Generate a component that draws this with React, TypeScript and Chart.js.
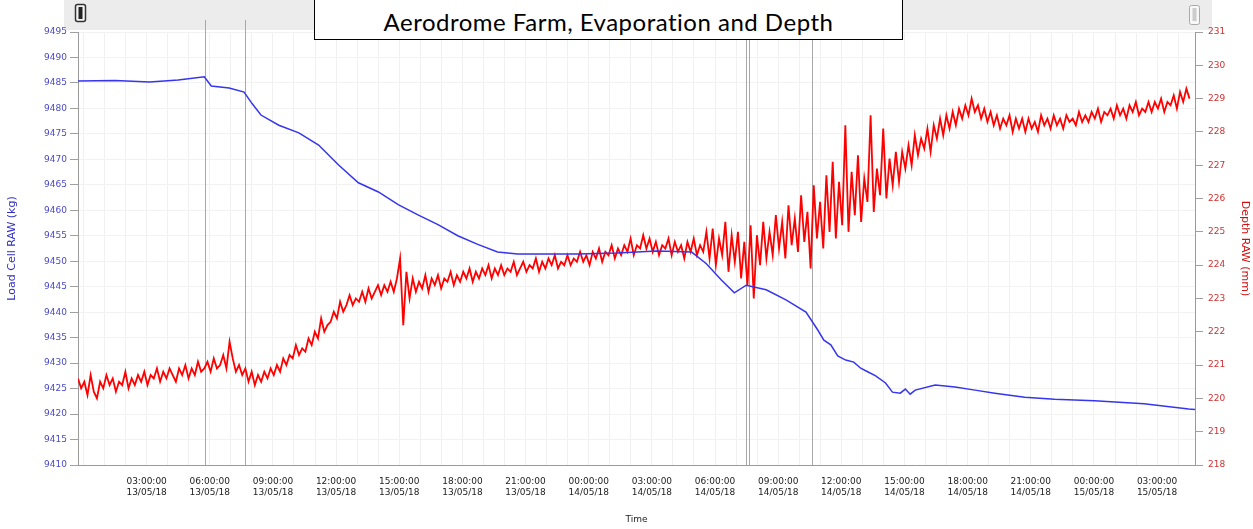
import React, { useEffect, useRef } from "react";
import { Chart, registerables } from "chart.js";

Chart.register(...registerables);

// ---- Data ----
// Time is expressed in hours since 00:00:00 on 13/05/18
const xMinHour = -0.26;
const xMaxHour = 52.8;

const xTickHours = [3, 6, 9, 12, 15, 18, 21, 24, 27, 30, 33, 36, 39, 42, 45, 48, 51];
const xTickTimes = [
  "03:00:00", "06:00:00", "09:00:00", "12:00:00", "15:00:00", "18:00:00", "21:00:00",
  "00:00:00", "03:00:00", "06:00:00", "09:00:00", "12:00:00", "15:00:00", "18:00:00", "21:00:00",
  "00:00:00", "03:00:00",
];
const xTickDates = [
  "13/05/18", "13/05/18", "13/05/18", "13/05/18", "13/05/18", "13/05/18", "13/05/18",
  "14/05/18", "14/05/18", "14/05/18", "14/05/18", "14/05/18", "14/05/18", "14/05/18", "14/05/18",
  "15/05/18", "15/05/18",
];

// Load cell (left axis)
const blueHours = [
  -0.26, 1.5, 3.14, 4.5, 5.74, 6.07, 6.92, 7.63, 8.0, 8.43, 9.28, 10.23, 11.17, 12.12, 13.06,
  14.01, 14.95, 15.89, 16.84, 17.78, 18.73, 19.67, 20.62, 23.45, 25.34, 27.23, 28.89, 29.59,
  30.3, 30.92, 31.48, 32.43, 33.37, 34.32, 34.88, 35.17, 35.5, 35.83, 36.21, 36.59, 36.92,
  37.25, 37.63, 38.1, 38.43, 38.8, 39.04, 39.27, 39.51, 40.46, 41.4, 42.35, 43.29, 44.71,
  46.13, 48.02, 50.38, 52.5, 52.8,
];
const blueLoad = [
  9485.4, 9485.5, 9485.2, 9485.6, 9486.2, 9484.4, 9484.0, 9483.2, 9481.0, 9478.7, 9476.7,
  9475.2, 9472.8, 9468.9, 9465.4, 9463.6, 9461.1, 9459.1, 9457.2, 9455.0, 9453.3, 9451.8,
  9451.4, 9451.4, 9451.6, 9452.0, 9451.8, 9449.5, 9446.3, 9443.8, 9445.3, 9444.4, 9442.4,
  9440.0, 9436.5, 9434.5, 9433.6, 9431.4, 9430.6, 9430.2, 9429.0, 9428.3, 9427.5, 9426.1,
  9424.3, 9424.1, 9424.9, 9423.9, 9424.7, 9425.7, 9425.3, 9424.7, 9424.1, 9423.3, 9422.9,
  9422.6, 9422.0, 9421.0, 9420.9,
];

// Depth (right axis), logged every 0.15 h starting at xMinHour
const redStartHour = -0.26;
const redStepHours = 0.15;
const redDepth = [
  220.6, 220.3, 220.5, 220.1, 220.7, 220.2, 220.0, 220.5, 220.3, 220.7, 220.4, 220.6, 220.2, 220.5, 220.4, 220.8, 220.3, 220.6, 220.4, 220.7,
  220.5, 220.8, 220.4, 220.7, 220.6, 220.9, 220.5, 220.8, 220.6, 220.9, 220.7, 220.5, 220.9, 220.7, 221.0, 220.6, 220.9, 220.7, 221.1, 220.8,
  220.9, 221.1, 220.8, 221.2, 220.9, 221.0, 221.3, 220.9, 221.7, 221.2, 220.8, 221.0, 220.7, 220.9, 220.5, 220.8, 220.4, 220.7, 220.5, 220.8,
  220.6, 220.9, 220.7, 221.0, 220.8, 221.2, 221.0, 221.3, 221.2, 221.6, 221.3, 221.5, 221.4, 221.8, 221.6, 222.0, 221.8, 222.4, 222.0, 222.2,
  222.3, 222.6, 222.4, 222.9, 222.6, 222.8, 223.1, 222.8, 223.0, 222.9, 223.2, 222.9, 223.3, 223.0, 223.2, 223.4, 223.1, 223.4, 223.2, 223.5,
  223.2, 223.6, 224.2, 222.2, 223.8, 223.0, 223.6, 223.2, 223.5, 223.3, 223.7, 223.2, 223.6, 223.4, 223.7, 223.3, 223.6, 223.5, 223.8, 223.4,
  223.7, 223.5, 223.8, 223.6, 223.9, 223.5, 223.8, 223.6, 223.9, 223.7, 224.0, 223.6, 223.9, 223.7, 224.0, 223.7, 223.9, 223.8, 224.1, 223.7,
  223.9, 224.1, 223.8, 224.0, 223.9, 224.2, 223.8, 224.1, 223.9, 224.2, 224.0, 224.3, 223.9, 224.1, 224.0, 224.3, 224.0, 224.2, 224.1, 224.4,
  224.1, 224.3, 224.0, 224.4, 224.2, 224.5, 224.1, 224.4, 224.3, 224.6, 224.2, 224.5, 224.3, 224.6, 224.4, 224.8, 224.3, 224.6, 224.5, 224.9,
  224.5, 224.8, 224.4, 224.7, 224.3, 224.6, 224.5, 224.8, 224.3, 224.7, 224.4, 224.6, 224.2, 224.7, 224.4, 224.8, 224.3, 224.6, 224.4, 225.0,
  224.2, 225.1, 224.0, 224.8, 224.3, 225.3, 223.8, 224.9, 224.1, 225.0, 223.6, 224.7, 223.4, 225.2, 223.0, 224.9, 224.0, 225.3, 224.2, 225.0,
  224.3, 225.5, 224.5, 225.3, 224.2, 225.8, 224.6, 225.4, 224.4, 226.1, 224.7, 225.6, 223.9, 226.4, 224.8, 225.9, 224.5, 226.7, 225.0, 227.1,
  224.8, 226.5, 225.2, 228.2, 225.0, 226.8, 225.5, 227.3, 225.3, 226.6, 225.9, 228.5, 225.6, 226.9, 226.1, 228.1, 226.0, 227.2, 226.4, 227.4,
  226.5, 227.4, 226.9, 227.6, 227.0, 227.9, 227.3, 227.8, 227.5, 228.1, 227.4, 228.2, 227.8, 228.4, 227.9, 228.5, 228.1, 228.6, 228.2, 228.7,
  228.4, 228.8, 228.5, 229.0, 228.6, 228.8, 228.4, 228.7, 228.3, 228.6, 228.2, 228.5, 228.1, 228.4, 228.2, 228.5, 228.0, 228.4, 228.1, 228.4,
  228.0, 228.4, 228.1, 228.3, 228.0, 228.5, 228.2, 228.4, 228.1, 228.5, 228.2, 228.4, 228.1, 228.5, 228.3, 228.4, 228.2, 228.6, 228.3, 228.5,
  228.3, 228.6, 228.4, 228.7, 228.3, 228.6, 228.5, 228.7, 228.4, 228.8, 228.5, 228.7, 228.4, 228.8, 228.6, 228.9, 228.5, 228.7, 228.6, 228.9,
  228.6, 228.9, 228.7, 229.0, 228.6, 228.9, 228.8, 229.1, 228.7, 229.2, 228.9, 229.3, 229.0,
];

// Event marker lines (hours)
const eventHours = [5.79, 7.68, 31.48, 31.62, 34.6];

const leftMin = 9410;
const leftMax = 9495;
const leftStep = 5;
const rightMin = 218;
const rightMax = 231;
const rightStep = 1;

const FONT = "'DejaVu Sans', sans-serif";

const topBandPlugin = {
  id: "topBand",
  beforeDraw(chart: any) {
    const ctx = chart.ctx;
    ctx.save();
    ctx.fillStyle = "#ffffff";
    ctx.fillRect(0, 0, chart.width, chart.height);
    ctx.fillStyle = "#ececec";
    ctx.fillRect(64, 0, 1148, 30);
    // left handle
    ctx.strokeStyle = "#333";
    ctx.lineWidth = 1.5;
    ctx.fillStyle = "#f4f4f4";
    ctx.beginPath();
    ctx.roundRect(75.5, 4.5, 10, 17, 2);
    ctx.fill();
    ctx.stroke();
    ctx.fillStyle = "#222";
    ctx.fillRect(78.5, 7, 4, 12);
    // right handle
    ctx.strokeStyle = "#aaa";
    ctx.lineWidth = 1;
    ctx.fillStyle = "#f8f8f8";
    ctx.beginPath();
    ctx.roundRect(1189.5, 5.5, 10, 19, 2);
    ctx.fill();
    ctx.stroke();
    ctx.fillStyle = "#ccc";
    ctx.fillRect(1192.5, 8, 4, 13);
    ctx.restore();
  },
  beforeDatasetsDraw(chart: any) {
    const ctx = chart.ctx;
    const x = chart.scales.x;
    const area = chart.chartArea;
    ctx.save();
    ctx.strokeStyle = "#a8a8a8";
    ctx.lineWidth = 1;
    eventHours.forEach((h) => {
      const px = Math.round(x.getPixelForValue(h)) + 0.5;
      ctx.beginPath();
      ctx.moveTo(px, area.top - 12);
      ctx.lineTo(px, area.bottom);
      ctx.stroke();
    });
    ctx.restore();
  },
};

export default function App() {
  const ref = useRef<HTMLCanvasElement | null>(null);

  useEffect(() => {
    if (!ref.current) return;
    const chart = new Chart(ref.current, {
      type: "line",
      data: {
        datasets: [
          {
            label: "Load Cell RAW (kg)",
            data: blueHours.map((h, i) => ({ x: h, y: blueLoad[i] })),
            borderColor: "#3535f0",
            borderWidth: 1.5,
            pointRadius: 0,
            tension: 0,
            yAxisID: "yL",
          },
          {
            label: "Depth RAW (mm)",
            data: redDepth.map((v, i) => ({ x: redStartHour + i * redStepHours, y: v })),
            borderColor: "#ff0000",
            borderWidth: 1.8,
            pointRadius: 0,
            tension: 0,
            yAxisID: "yR",
          },
        ],
      },
      options: {
        animation: false,
        responsive: true,
        maintainAspectRatio: false,
        layout: { padding: { top: 32, left: 0, right: 0, bottom: 0 } },
        plugins: {
          legend: { display: false },
          tooltip: { enabled: false },
        },
        scales: {
          x: {
            type: "linear",
            min: xMinHour,
            max: xMaxHour,
            afterBuildTicks: (axis: any) => {
              const t: any[] = [];
              for (let h = 0; h <= 52; h++) t.push({ value: h });
              axis.ticks = t;
            },
            afterFit: (s: any) => {
              s.height = 64;
            },
            ticks: {
              autoSkip: false,
              maxRotation: 0,
              minRotation: 0,
              padding: 11,
              color: "#222",
              font: { family: FONT, size: 9 },
              callback: (value: any) => {
                const i = xTickHours.indexOf(Number(value));
                return i >= 0 ? [xTickTimes[i], xTickDates[i]] : "";
              },
            },
            grid: { color: "#f0f0f0", drawTicks: false },
            border: { color: "#9a9a9a" },
            title: {
              display: true,
              text: "Time",
              color: "#222",
              font: { family: FONT, size: 9 },
              padding: { top: 2, bottom: 4 },
            },
          },
          yL: {
            type: "linear",
            position: "left",
            min: leftMin,
            max: leftMax,
            afterFit: (s: any) => {
              s.width = 78;
            },
            ticks: {
              stepSize: leftStep,
              color: "#4a4ac8",
              padding: 3,
              font: { family: FONT, size: 9 },
              callback: (v: any) => String(v),
            },
            grid: { color: "#f2f2f2", tickColor: "#a0a0a0", tickLength: 8 },
            border: { color: "#9a9a9a" },
            title: {
              display: true,
              text: "Load Cell RAW (kg)",
              color: "#3030c0",
              font: { family: FONT, size: 11 },
              padding: { top: 6, bottom: 2 },
            },
          },
          yR: {
            type: "linear",
            position: "right",
            min: rightMin,
            max: rightMax,
            afterFit: (s: any) => {
              s.width = 58;
            },
            ticks: {
              stepSize: rightStep,
              color: "#d03030",
              padding: 5,
              font: { family: FONT, size: 9 },
            },
            grid: { drawOnChartArea: false, tickColor: "#a0a0a0", tickLength: 8 },
            border: { color: "#9a9a9a" },
            title: {
              display: true,
              text: "Depth RAW (mm)",
              color: "#d01010",
              font: { family: FONT, size: 11 },
              padding: { top: 2, bottom: 2 },
            },
          },
        },
      },
      plugins: [topBandPlugin],
    });
    return () => chart.destroy();
  }, []);

  return (
    <div
      style={{
        position: "fixed",
        left: 0,
        top: 0,
        width: 1253,
        height: 529,
        background: "#fff",
      }}
    >
      <canvas ref={ref} />
      <div
        style={{
          position: "absolute",
          left: 314,
          top: -1,
          width: 589,
          height: 41,
          border: "1px solid #000",
          background: "#fff",
          display: "flex",
          alignItems: "center",
          justifyContent: "center",
          fontFamily: "Lato, sans-serif",
          fontSize: 24,
          letterSpacing: 0.5,
          color: "#000",
          paddingTop: 4,
          boxSizing: "border-box",
        }}
      >
        Aerodrome Farm, Evaporation and Depth
      </div>
    </div>
  );
}
